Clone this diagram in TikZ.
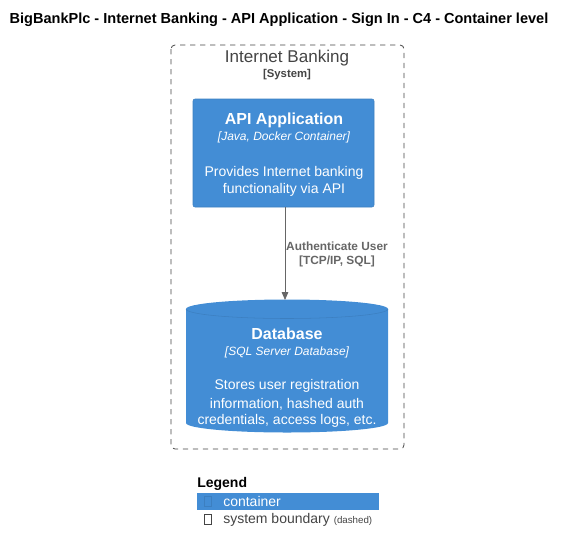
\documentclass[tikz,border=0pt]{standalone}
\usepackage{fontspec}
\setmainfont{Liberation Sans}
\usetikzlibrary{arrows.meta}

\definecolor{containerblue}{HTML}{438DD5}
\definecolor{containerline}{HTML}{3C7FC0}
\definecolor{boundarygray}{HTML}{444444}
\definecolor{relgray}{HTML}{666666}

\tikzset{
  pxfont/.style={font=\fontsize{#1}{#1}\selectfont},
  txt/.style={inner sep=0.75pt, anchor=center},
  containerbox/.style={fill=containerblue, draw=containerline, rounded corners=1.5pt},
  boundarybox/.style={draw=boundarygray, dash pattern={on 4pt off 3.5pt}, rounded corners=3pt, line width=0.6pt},
  relarrow/.style={draw=relgray, line width=0.6pt, -{Triangle[length=6pt,width=5pt]}},
  glyphbox/.style={draw=#1, line width=0.4pt},
}

\begin{document}
\begin{tikzpicture}[x=0.75pt,y=0.75pt,yscale=-1,xscale=1]
        \useasboundingbox (0,0) rectangle (566,553);

        % Title
        \draw (279,20) node [txt][pxfont=10.9pt]  {\bfseries BigBankPlc - Internet Banking - API Application - Sign In - C4 - Container level};

        %Shape: system boundary
        \draw [boundarybox] (171,45) rectangle (404,449);
        \draw (287,58.5) node (sysname) [txt][pxfont=12.8pt, text=boundarygray]  {Internet Banking};
        \draw (287,75) node (systype) [txt][pxfont=8.5pt, text=boundarygray]  {\bfseries [System]};

        %Shape: API container
        \draw [containerbox] (193,99) rectangle (374,207);
        \coordinate (apibottom) at (285,207);
        \draw (284,120) node (api) [txt][pxfont=12pt, text=white]  {\bfseries API Application};
        \draw (284,137) node [txt][pxfont=9pt, text=white]  {\itshape [Java, Docker Container]};
        \draw (284,173) node [txt][pxfont=10.5pt, text=white]  {Provides Internet banking};
        \draw (284,190) node [txt][pxfont=10.5pt, text=white]  {functionality via API};

        %Shape: Database cylinder
        \fill [containerblue] (186,309) -- (186,423) arc [start angle=180, end angle=0, x radius=101, y radius=9.5] -- (388,309) arc [start angle=0, end angle=-180, x radius=101, y radius=9.5] -- cycle;
        \draw [containerline, line width=0.4pt] (186,309) arc [start angle=180, end angle=0, x radius=101, y radius=9.5];
        \coordinate (dbtop) at (285,300);
        \draw (287,334) node (db) [txt][pxfont=12pt, text=white]  {\bfseries Database};
        \draw (287,352) node [txt][pxfont=9pt, text=white]  {\itshape [SQL Server Database]};
        \draw (287,386) node [txt][pxfont=10.5pt, text=white]  {Stores user registration};
        \draw (287,404) node [txt][pxfont=10.5pt, text=white]  {information, hashed auth};
        \draw (287,421) node [txt][pxfont=10.5pt, text=white]  {credentials, access logs, etc.};

        %Relation
        \draw [relarrow] (apibottom) -- (dbtop);
        \draw (337,246) node (rellabel) [txt][pxfont=8.9pt, text=relgray]  {\bfseries Authenticate User};
        \draw (337,261) node (reltech) [txt][pxfont=8.9pt, text=relgray]  {\bfseries [TCP/IP, SQL]};

        %Legend
        \draw (197,484) node (legend) [anchor=west][inner sep=0pt][pxfont=10.5pt]  {\bfseries Legend};
        \fill [containerblue] (197,493) rectangle (379,510);
        \draw [glyphbox=containerline] (204,496) rectangle (211,506);
        \draw (223,501.5) node (legcontainer) [anchor=west][inner sep=0pt][pxfont=10.5pt, text=white]  {container};
        \draw [glyphbox=boundarygray] (204,514) rectangle (211,524);
        \draw (223,519.5) node (legboundary) [anchor=west][inner sep=0pt][pxfont=10.5pt, text=boundarygray]  {system boundary {\fontsize{7.3pt}{7.3pt}\selectfont (dashed)}};

\end{tikzpicture}
\end{document}
